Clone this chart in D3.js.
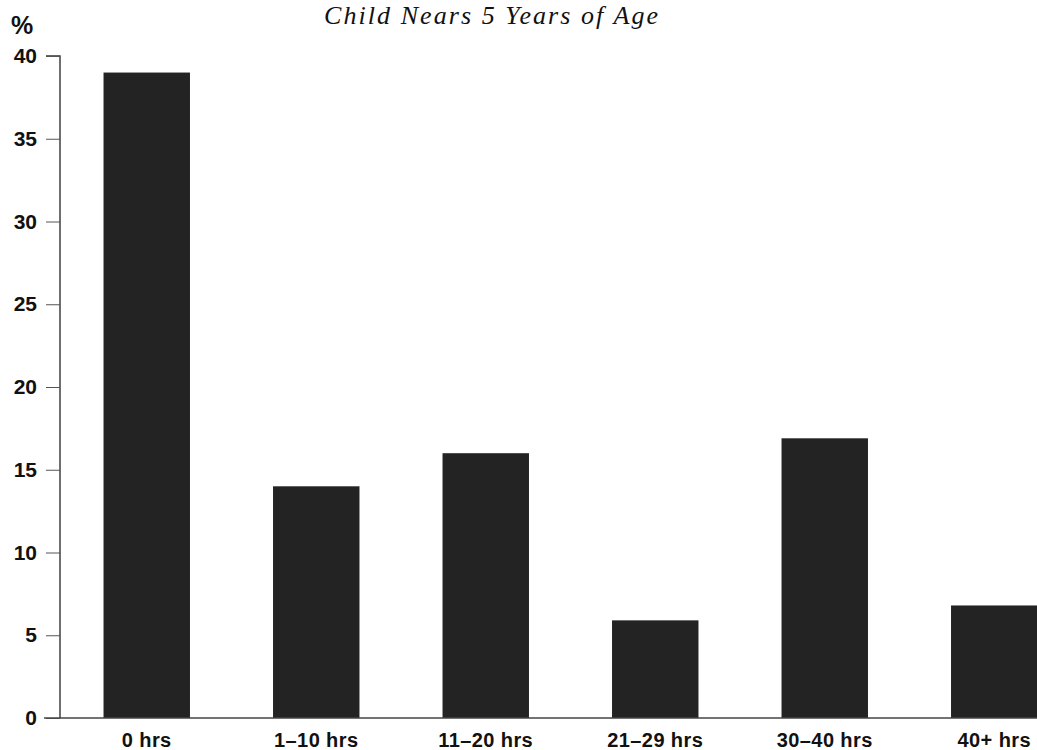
<!DOCTYPE html>
<html><head><meta charset="utf-8">
<script src="https://cdn.jsdelivr.net/npm/d3@7"></script>
<style>body{margin:0;background:#fff}svg{display:block}</style>
</head><body>
<script>
const categories = ["0 hrs","1\u201310 hrs","11\u201320 hrs","21\u201329 hrs","30\u201340 hrs","40+ hrs"];
const values = [39, 14, 16, 5.9, 16.9, 6.8];
const yTicks = [0,5,10,15,20,25,30,35,40];
const title = "Child Nears 5 Years of Age";
const yUnit = "%";

const W = 1037, H = 750;
const svg = d3.select("body").append("svg").attr("width", W).attr("height", H);

const x = d3.scaleBand().domain(categories).range([62, 62 + 6*169.5]).paddingInner(0.49).paddingOuter(0.245);
const y = d3.scaleLinear().domain([0, 40]).range([718, 56]);

svg.append("text").attr("x", 324).attr("y", 24)
  .attr("font-family", "Liberation Serif, Times New Roman, serif").attr("font-style", "italic")
  .attr("font-size", 26).attr("fill", "#111")
  .attr("textLength", 334).attr("lengthAdjust", "spacing").text(title);

svg.append("text").attr("x", 11).attr("y", 34)
  .attr("font-family", "Liberation Sans, Arial, sans-serif").attr("font-weight", "bold")
  .attr("font-size", 25).attr("fill", "#111").text(yUnit);

svg.selectAll("rect.bar").data(values).join("rect").attr("class", "bar")
  .attr("x", (d, i) => x(categories[i])).attr("width", x.bandwidth())
  .attr("y", d => y(d)).attr("height", d => y(0) - y(d)).attr("fill", "#232323");

const yAxis = svg.append("g").attr("transform", "translate(60,0)")
  .call(d3.axisLeft(y).tickValues(yTicks).tickSize(14).tickPadding(9));
yAxis.select(".domain").attr("stroke", "#333").attr("stroke-width", 1.4).attr("d", `M-14,${y(40)}H0V${y(0)}`);
yAxis.selectAll(".tick line").attr("stroke", "#555");
yAxis.selectAll(".tick text").attr("font-family", "Liberation Sans, Arial, sans-serif")
  .attr("font-weight", "bold").attr("font-size", 21).attr("fill", "#111");

svg.append("line").attr("x1", 44).attr("x2", W).attr("y1", y(0)).attr("y2", y(0))
  .attr("stroke", "#444").attr("stroke-width", 1.3);

svg.selectAll("text.cat").data(categories).join("text").attr("class", "cat")
  .attr("x", d => x(d) + x.bandwidth()/2).attr("y", 747).attr("text-anchor", "middle")
  .attr("font-family", "Liberation Sans, Arial, sans-serif").attr("font-weight", "bold")
  .attr("font-size", 20).attr("fill", "#111").attr("letter-spacing", 0.4).text(d => d);
</script>
</body></html>
